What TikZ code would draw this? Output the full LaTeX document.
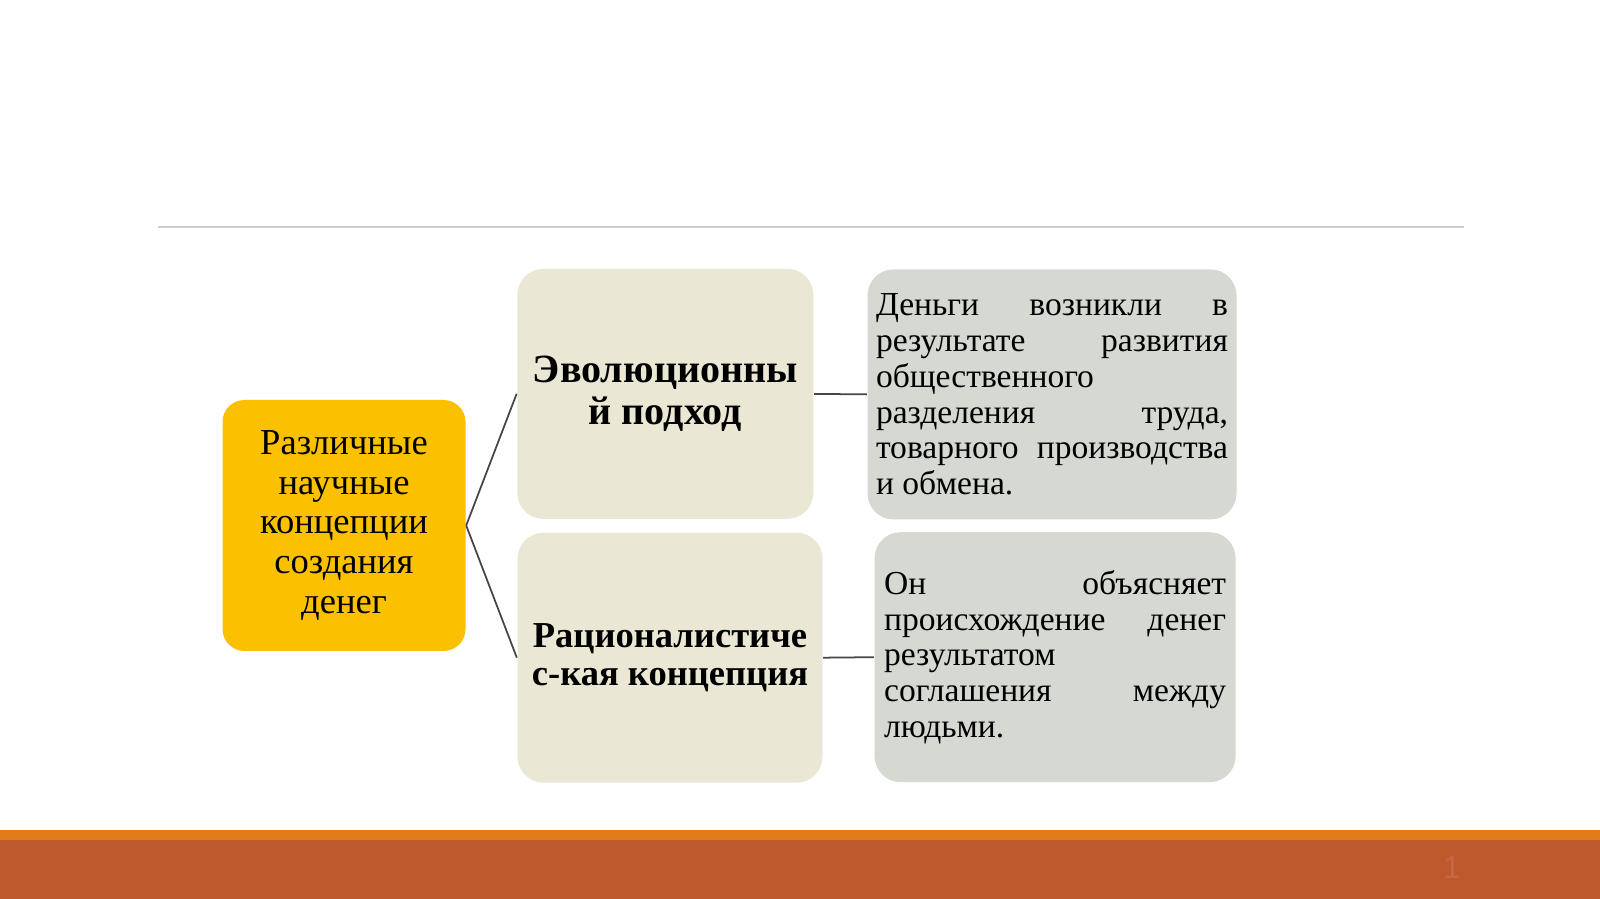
\documentclass[tikz,border=0pt]{standalone}
\usepackage{fontspec}
\setmainfont{Liberation Serif}
\setsansfont{Liberation Sans}
\usepackage{tikz}

\definecolor{boxyellow}{RGB}{251,192,0}
\definecolor{boxbeige}{RGB}{234,232,213}
\definecolor{boxgrey}{RGB}{213,217,209}
\definecolor{stripe}{RGB}{224,124,26}
\definecolor{rust}{RGB}{190,88,45}
\definecolor{rulegrey}{RGB}{205,205,205}
\definecolor{linkgrey}{RGB}{70,70,70}
\definecolor{numfaint}{RGB}{198,104,70}

\begin{document}
\begin{tikzpicture}[
    mainbox/.style={fill=boxyellow,rounded corners=0.22cm,inner sep=0pt,align=center,
        minimum width=2.43cm,minimum height=2.51cm,font=\fontsize{10.4}{11.3}\selectfont},
    kindbox/.style={fill=boxbeige,rounded corners=0.26cm,inner sep=0pt,align=center,
        minimum height=2.50cm},
    notebox/.style={fill=boxgrey,rounded corners=0.26cm,inner sep=0pt,align=justify,
        minimum height=2.50cm,font=\fontsize{9.55}{10.2}\selectfont},
    link/.style={linkgrey,line width=0.5pt}
]
    \useasboundingbox (0,0) rectangle (16,8.99);
    \fill[white] (0,0) rectangle (16,8.99);
    % top rule and bottom band
    \draw [rulegrey,line width=0.6pt](1.58,6.72) -- (14.64,6.72);
    \fill [rust](0,0) rectangle (16,0.59);
    \fill [stripe](0,0.59) rectangle (16,0.69);
    \node[numfaint,font=\sffamily\fontsize{9}{10}\selectfont] (slideno) at (14.52,0.31) {1};
    % boxes
    \node[mainbox] (money) at (3.44,3.735) {Различные\\научные\\концепции\\создания\\денег};
    \node[kindbox,minimum width=2.96cm,font=\bfseries\fontsize{11.4}{11.9}\selectfont]
        (evol) at (6.653,5.051) {Эволюционны\\й подход};
    \node[kindbox,minimum width=3.05cm,font=\bfseries\fontsize{10.4}{11.05}\selectfont]
        (ratio) at (6.70,2.413) {Рационалистиче\\с-кая концепция};
    \node[notebox,minimum width=3.69cm,text width=3.52cm] (evoltext) at (10.52,5.046)
        {Деньги возникли в\linebreak результате развития\linebreak общественного\linebreak
         разделения труда,\linebreak товарного производства\linebreak и обмена.};
    \node[notebox,minimum width=3.61cm,text width=3.42cm] (ratiotext) at (10.551,2.418)
        {Он объясняет\linebreak происхождение денег\linebreak результатом\linebreak
         соглашения между\linebreak людьми.};
    % connectors
    \draw [link](money.east) -- (evol.west);
    \draw [link](money.east) -- (ratio.west);
    \draw [link](evol.east) -- (evoltext.west);
    \draw [link](ratio.east) -- (ratiotext.west);
\end{tikzpicture}
\end{document}
